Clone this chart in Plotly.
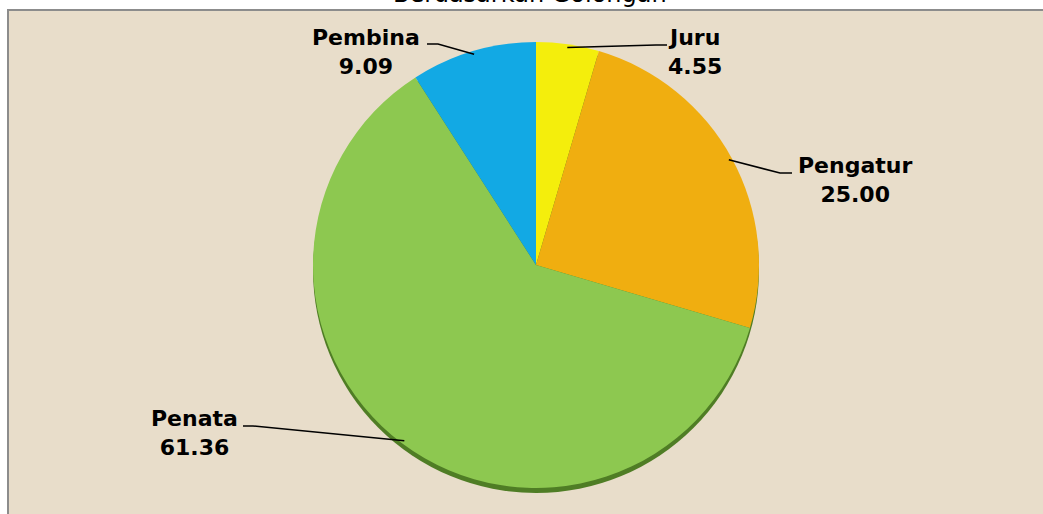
import math
import plotly.graph_objects as go

# ---- data ----
categories = ["Juru", "Pengatur", "Penata", "Pembina"]
values = [4.55, 25.00, 61.36, 9.09]
value_labels = ["4.55", "25.00", "61.36", "9.09"]
title_text = "Berdasarkan Golongan"

# ---- style ----
W, H = 1043, 514
colors = ["#F4EE0C", "#F0AE10", "#8DC850", "#12A9E4"]
shadow_color = "#4F7D25"
bg_color = "#E8DDCA"
CX, CY, R = 536, 265, 223
SHADOW_DY = 5

# label text centers and leader-line elbows (pixel style positions)
label_style = {
    "Juru":     {"text": (695, 52),  "elbow": [(656, 45), (667, 45)]},
    "Pengatur": {"text": (855, 180), "elbow": [(780, 173), (792, 173)]},
    "Penata":   {"text": (194, 433), "elbow": [(253, 426), (243, 426)]},
    "Pembina":  {"text": (366, 52),  "elbow": [(438, 44), (427, 44)]},
}

def px(x):
    return x / W

def py(y):
    return 1 - y / H

def domain(cx, cy, r):
    return dict(x=[px(cx - r), px(cx + r)], y=[py(cy + r), py(cy - r)])

fig = go.Figure()

# shadow
fig.add_trace(go.Pie(
    values=[1], labels=["shadow"], marker=dict(colors=[shadow_color], line=dict(width=0)),
    textinfo="none", hoverinfo="skip", showlegend=False, sort=False,
    domain=domain(CX, CY + SHADOW_DY, R),
))

fig.add_trace(go.Pie(
    values=values, labels=categories, marker=dict(colors=colors, line=dict(width=0)),
    textinfo="none", showlegend=False, sort=False, direction="clockwise", rotation=0,
    domain=domain(CX, CY, R),
))

shapes = [
    dict(type="rect", xref="paper", yref="paper", x0=px(8), x1=px(W + 20),
         y0=py(H + 20), y1=py(10), fillcolor=bg_color,
         line=dict(color="#8C8C8C", width=2), layer="below"),
]
annotations = []

total = sum(values)
cum = 0.0
for cat, v, vl in zip(categories, values, value_labels):
    mid = (cum + v / 2) / total * 2 * math.pi
    cum += v
    ra = R * 0.985
    ax_ = CX + ra * math.sin(mid)
    ay_ = CY - ra * math.cos(mid)
    st = label_style[cat]
    pts = [(ax_, ay_)] + st["elbow"]
    path = "M " + " L ".join(f"{px(x)},{py(y)}" for x, y in pts)
    shapes.append(dict(type="path", xref="paper", yref="paper", path=path,
                       line=dict(color="black", width=1.5)))
    tx, ty = st["text"]
    annotations.append(dict(
        x=px(tx), y=py(ty), xref="paper", yref="paper", showarrow=False,
        text=f"<b>{cat}<br>{vl}</b>", align="center",
        xanchor="center", yanchor="middle",
        font=dict(family="DejaVu Sans", size=22, color="black"),
    ))

annotations.append(dict(
    x=px(530), y=py(-6), xref="paper", yref="paper", showarrow=False,
    text=title_text, xanchor="center", yanchor="middle",
    font=dict(family="DejaVu Sans", size=24, color="black"),
))

fig.update_layout(
    width=W, height=H, margin=dict(l=0, r=0, t=0, b=0),
    paper_bgcolor="white", plot_bgcolor="white",
    shapes=shapes, annotations=annotations,
)

fig.write_html("out.html")
